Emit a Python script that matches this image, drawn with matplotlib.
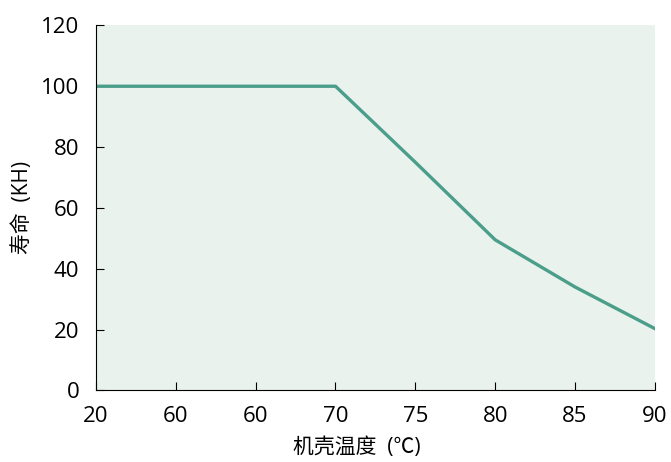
import matplotlib.pyplot as plt

plt.rcParams['font.family'] = ['Open Sans', 'Noto Sans CJK SC', 'DejaVu Sans']

# 机壳温度 (x축 라벨, 60 두번 나옴 - 원본 그대로)
temp_labels = ['20', '60', '60', '70', '75', '80', '85', '90']
life = [100, 100, 100, 100, 75, 49.5, 34, 20.3]

fig = plt.figure(figsize=(6.71, 4.62), dpi=100)
ax = fig.add_axes([0.143, 0.155, 0.833, 0.79])

x = list(range(len(temp_labels)))
ax.plot(x, life, color='#4a9e8a', linewidth=2.4)

ax.set_facecolor('#eaf2ee')
ax.set_xlim(0, len(temp_labels) - 1)
ax.set_ylim(0, 120)
ax.set_xticks(x)
ax.set_xticklabels(temp_labels)
ax.set_yticks([0, 20, 40, 60, 80, 100, 120])

ax.spines['top'].set_visible(False)
ax.spines['right'].set_visible(False)
ax.tick_params(direction='in', length=6, labelsize=16)
ax.tick_params(axis='x', pad=11)
ax.tick_params(axis='y', pad=12)

ax.set_xlabel('机壳温度  (℃)', fontsize=15)
ax.xaxis.set_label_coords(0.467, -0.128)
ax.set_ylabel('寿命  (KH)', fontsize=15)
ax.yaxis.set_label_coords(-0.112, 0.5)

plt.savefig('out.png', dpi=100)
